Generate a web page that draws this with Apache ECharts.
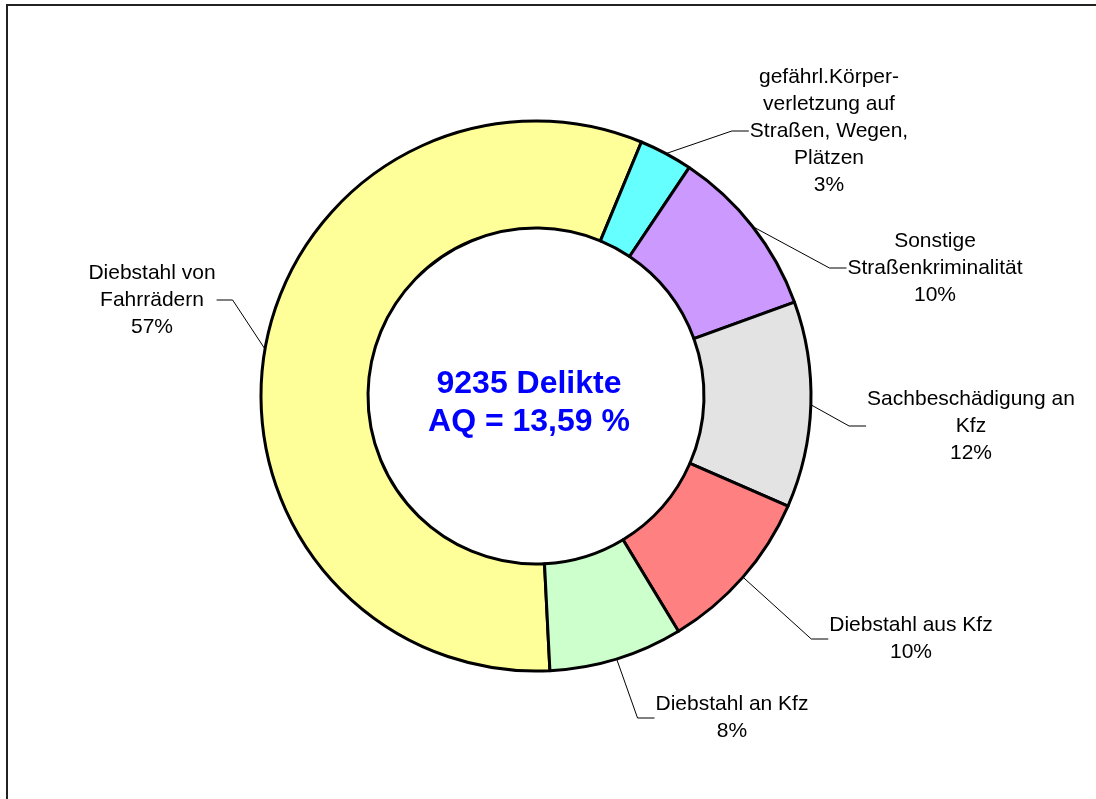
<!DOCTYPE html>
<html>
<head>
<meta charset="utf-8">
<title>Straßenkriminalität</title>
<script src="https://cdn.jsdelivr.net/npm/echarts@6/dist/echarts.min.js"></script>
<style>
  html, body { margin: 0; padding: 0; background: #fff; }
  #chart { width: 1096px; height: 799px; }
</style>
</head>
<body>
<div id="chart"></div>
<script>
  // Deliktsgruppen (im Uhrzeigersinn, ab Fahrräder)
  var categories = [
    'Diebstahl von\nFahrrädern',
    'gefährl.Körper-\nverletzung auf\nStraßen, Wegen,\nPlätzen',
    'Sonstige\nStraßenkriminalität',
    'Sachbeschädigung an\nKfz',
    'Diebstahl aus Kfz',
    'Diebstahl an Kfz'
  ]
  // geschätzte Fallzahlen (Summe 9235)
  var counts = [5270, 290, 929, 1117, 903, 726]
  var colors = ['#FFFF99', '#66FFFF', '#CC99FF', '#E3E3E3', '#FF8080', '#CCFFCC']
  var centerLines = ['9235 Delikte', 'AQ = 13,59 %']

  // Lage der Beschriftungen: Mittelpunkt x, y und Seite der Führungslinie
  var labelSpots = [
    [152, 300, 'right'],
    [829, 131, 'left'],
    [935, 268, 'left'],
    [971, 426, 'left'],
    [911, 639, 'left'],
    [732, 718, 'left']
  ]

  var myChart = echarts.init(document.getElementById('chart'))

  var pieData = categories.map(function (name, i) {
    return {
      name: name,
      value: counts[i],
      itemStyle: { color: colors[i] }
    }
  })

  var option = {
    animation: false,
    backgroundColor: '#fff',
    graphic: [
      {
        type: 'rect',
        shape: { x: 7, y: 5, width: 1200, height: 1000 },
        style: { fill: 'none', stroke: '#222', lineWidth: 2 },
        silent: true
      },
      {
        type: 'text',
        x: 529,
        y: 403,
        style: {
          text: centerLines.join('\n'),
          fill: '#0000FF',
          font: 'bold 32px "Liberation Sans", Arial, sans-serif',
          lineHeight: 38,
          align: 'center',
          verticalAlign: 'middle'
        },
        silent: true
      }
    ],
    series: [
      {
        type: 'pie',
        center: [536, 396],
        radius: [168, 275],
        startAngle: -87.1,
        clockwise: true,
        avoidLabelOverlap: false,
        silent: true,
        itemStyle: {
          borderColor: '#000',
          borderWidth: 3
        },
        label: {
          show: true,
          position: 'outside',
          color: '#000',
          fontFamily: '"Liberation Sans", Arial, sans-serif',
          fontSize: 21,
          lineHeight: 27,
          align: 'center',
          formatter: function (p) {
            return p.name + '\n' + Math.round(p.percent) + '%'
          }
        },
        labelLine: {
          show: true,
          length: 20,
          length2: 15,
          lineStyle: { color: '#000', width: 1 }
        },
        // Führungslinie: vom Ring schräg zum Knick, dann waagerecht zum Text
        labelLayout: function (p) {
          var s = labelSpots[p.dataIndex]
          var half = p.labelRect.width / 2
          var endX = s[2] === 'right' ? s[0] + half + 1 : s[0] - half - 1
          var elbowX = s[2] === 'right' ? endX + 16 : endX - 17
          var start = p.labelLinePoints ? p.labelLinePoints[0] : [elbowX, s[1]]
          return {
            x: s[0],
            y: s[1],
            align: 'center',
            verticalAlign: 'middle',
            labelLinePoints: [start, [elbowX, s[1]], [endX, s[1]]]
          }
        },
        data: pieData
      }
    ]
  }

  myChart.setOption(option)
</script>
</body>
</html>
